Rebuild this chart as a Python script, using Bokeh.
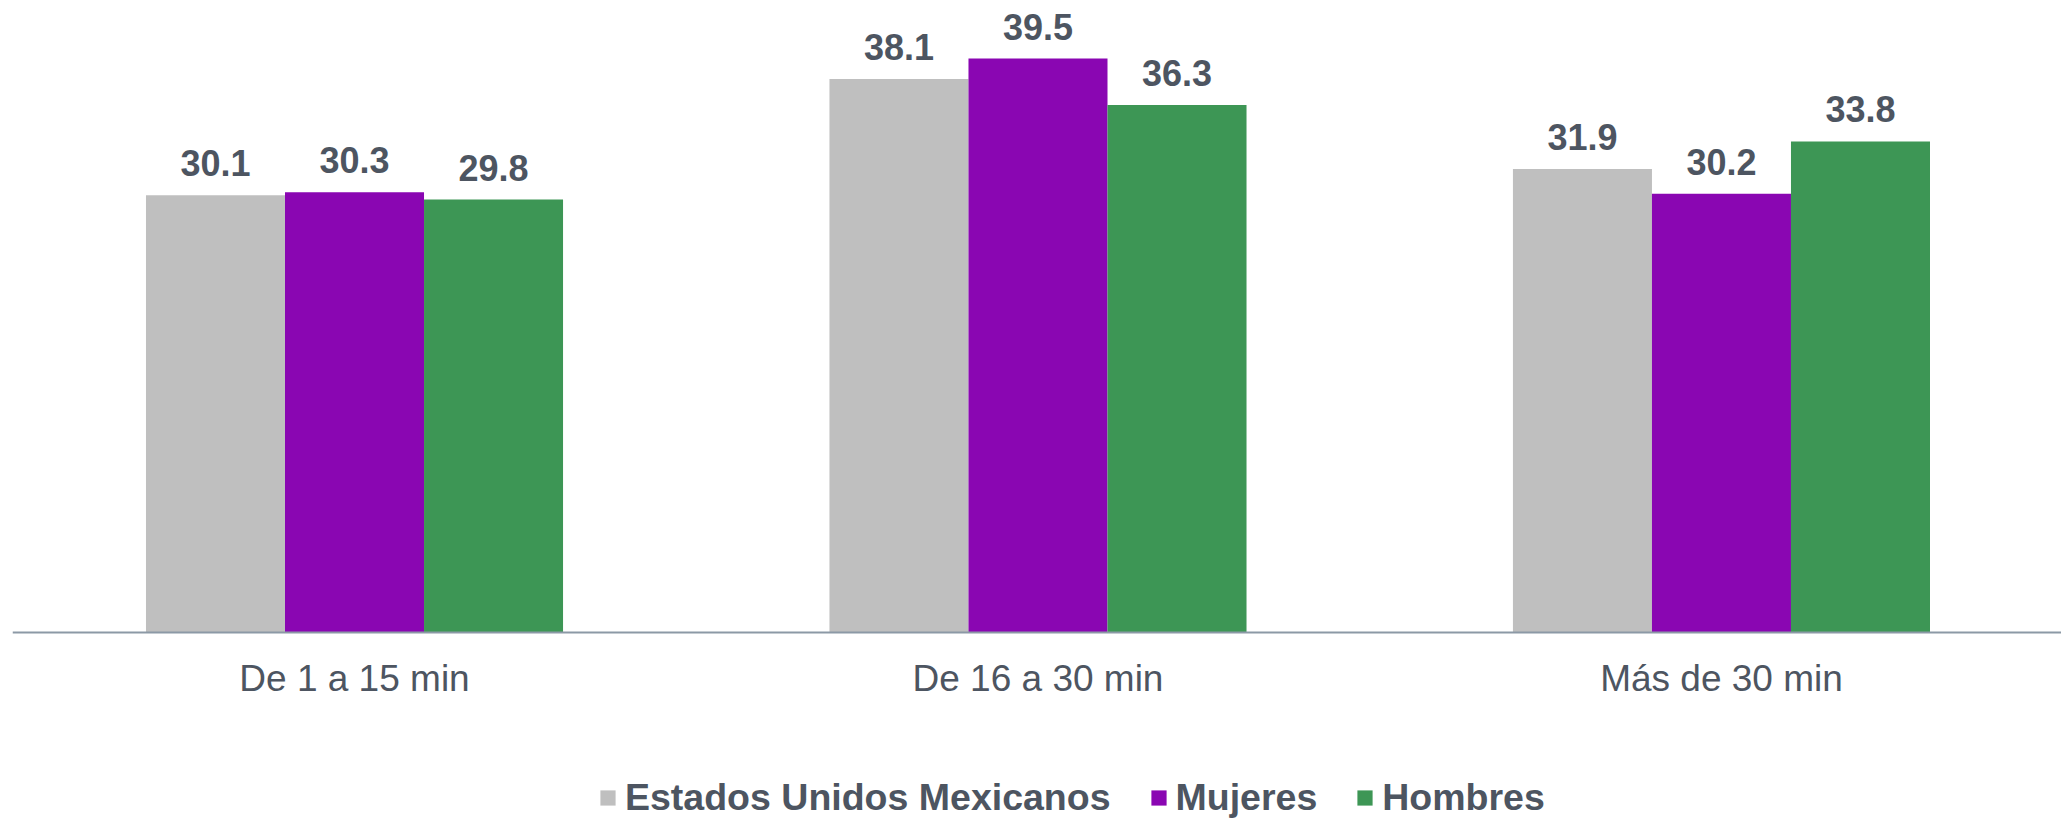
from bokeh.plotting import figure
from bokeh.models import ColumnDataSource, Range1d, FixedTicker, Legend, LegendItem, LabelSet
from bokeh.core.properties import value
from bokeh.embed import file_html
from bokeh.resources import INLINE

categories = ["De 1 a 15 min", "De 16 a 30 min", "Más de 30 min"]
series_names = ["Estados Unidos Mexicanos", "Mujeres", "Hombres"]
eum = [30.1, 38.1, 31.9]
mujeres = [30.3, 39.5, 30.2]
hombres = [29.8, 36.3, 33.8]
colors = ["#BFBFBF", "#8A06B2", "#3D9655"]

FONT = "Liberation Sans"
TXT = "#4D5561"

p = figure(width=2061, height=818, output_backend="svg", toolbar_location=None,
           x_range=Range1d(-0.5004, 2.4975), y_range=Range1d(-12.80, 43.50),
           min_border_left=12, min_border_right=0, min_border_top=0, min_border_bottom=0)
p.outline_line_color = None
p.xgrid.visible = False
p.ygrid.visible = False
p.yaxis.visible = False
p.background_fill_color = "white"
p.border_fill_color = "white"

bw = 0.2034
offsets = [-bw, 0.0, bw]
idx = list(range(len(categories)))
renderers = []
for name, vals, col, off in zip(series_names, [eum, mujeres, hombres], colors, offsets):
    src = ColumnDataSource(dict(x=[i + off for i in idx], top=vals,
                                lbl=[f"{v:.1f}" for v in vals]))
    r = p.vbar(x="x", top="top", width=bw, bottom=0, source=src,
               fill_color=col, line_color=None)
    renderers.append(r)
    labels = LabelSet(x="x", y="top", text="lbl", source=src, text_align="center",
                      text_baseline="alphabetic", y_offset=19,
                      text_font=value(FONT), text_font_style="bold",
                      text_font_size="36px", text_color=TXT)
    p.add_layout(labels)

ax = p.xaxis[0]
ax.fixed_location = 0
ax.ticker = FixedTicker(ticks=idx)
ax.major_label_overrides = {i: c for i, c in zip(idx, categories)}
ax.major_tick_line_color = None
ax.minor_tick_line_color = None
ax.major_tick_out = 0
ax.major_tick_in = 0
ax.major_label_standoff = 25
ax.major_label_text_font = FONT
ax.major_label_text_font_size = "37px"
ax.major_label_text_color = TXT
ax.axis_line_color = "#8C99A6"
ax.axis_line_width = 2

legend = Legend(items=[LegendItem(label=n, renderers=[r]) for n, r in zip(series_names, renderers)],
                orientation="horizontal", location=(586, -1),
                glyph_width=19, glyph_height=19, label_standoff=8, spacing=38,
                padding=0, margin=0, border_line_color=None, background_fill_alpha=0,
                label_text_font=FONT, label_text_font_style="bold",
                label_text_font_size="37.5px", label_text_color=TXT)
p.add_layout(legend, "center")

open("out.html", "w").write(file_html(p, INLINE))
